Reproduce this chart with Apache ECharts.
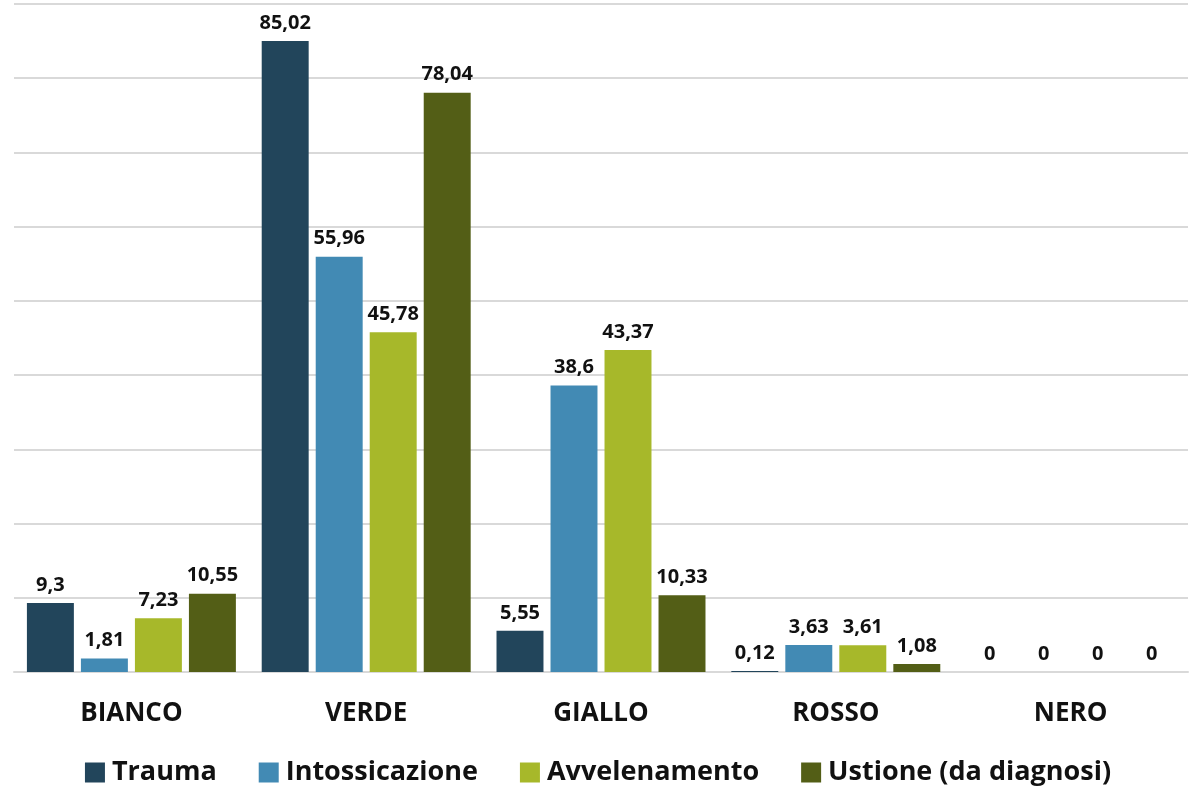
<!DOCTYPE html>
<html>
<head>
<meta charset="utf-8">
<script src="https://cdn.jsdelivr.net/npm/echarts@6/dist/echarts.min.js"></script>
<style>
  html, body { margin: 0; padding: 0; background: #fff; }
  #chart { width: 1196px; height: 793px; }
</style>
</head>
<body>
<div id="chart"></div>
<script>
const categories = ['BIANCO', 'VERDE', 'GIALLO', 'ROSSO', 'NERO'];
const trauma = [9.3, 85.02, 5.55, 0.12, 0];
const intossicazione = [1.81, 55.96, 38.6, 3.63, 0];
const avvelenamento = [7.23, 45.78, 43.37, 3.61, 0];
const ustione = [10.55, 78.04, 10.33, 1.08, 0];

const fontFamily = '"Open Sans", Lato, sans-serif';
const colors = ['#22455b', '#428ab4', '#a7b82a', '#535e16'];

const labelOpt = {
  show: true,
  position: 'top',
  distance: 8,
  color: '#111',
  fontFamily: fontFamily,
  fontWeight: 'bold',
  fontSize: 20,
  formatter: (p) => String(p.value).replace('.', ','),
};

function makeSeries(name, data) {
  return {
    name: name,
    type: 'bar',
    data: data,
    barGap: '15%',
    barCategoryGap: '11%',
    label: labelOpt,
  };
}

const chart = echarts.init(document.getElementById('chart'));
chart.setOption({
  color: colors,
  animation: false,
  grid: { left: 14, right: 8, top: 4, bottom: 121, containLabel: false },
  legend: {
    bottom: 2,
    left: 'center',
    itemWidth: 20,
    itemHeight: 20,
    itemGap: 42,
    icon: 'rect',
    textStyle: { fontFamily: fontFamily, fontWeight: 'bold', fontSize: 27, color: '#111', padding: [0, 0, 0, 2] },
    data: ['Trauma', 'Intossicazione', 'Avvelenamento', 'Ustione (da diagnosi)'],
  },
  xAxis: {
    type: 'category',
    data: categories,
    axisTick: { show: false },
    axisLine: { lineStyle: { color: '#d9d9d9', width: 2 } },
    axisLabel: { margin: 29, fontFamily: fontFamily, fontWeight: 'bold', fontSize: 26, color: '#111' },
  },
  yAxis: {
    type: 'value',
    min: 0,
    max: 90,
    interval: 10,
    axisLabel: { show: false },
    axisLine: { show: false },
    splitLine: { lineStyle: { color: '#d9d9d9', width: 2 } },
  },
  series: [
    makeSeries('Trauma', trauma),
    makeSeries('Intossicazione', intossicazione),
    makeSeries('Avvelenamento', avvelenamento),
    makeSeries('Ustione (da diagnosi)', ustione),
  ],
});
</script>
</body>
</html>
